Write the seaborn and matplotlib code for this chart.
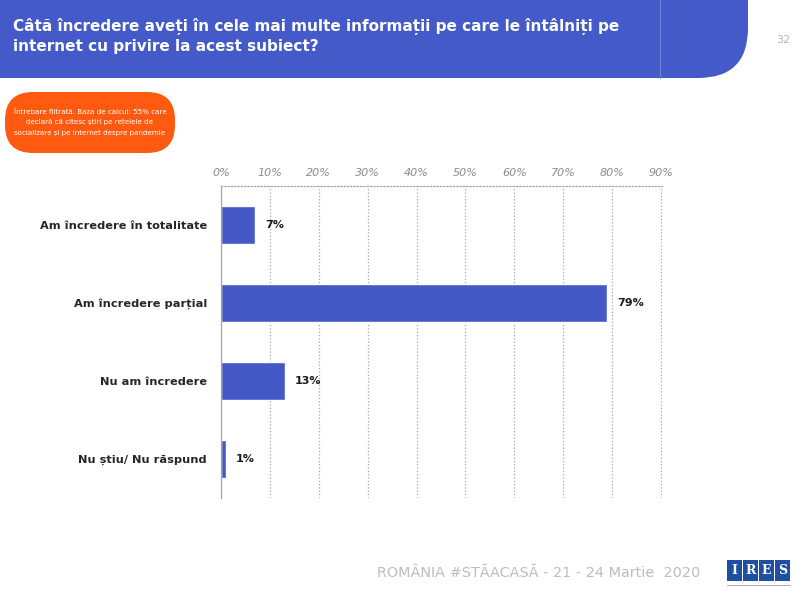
import matplotlib
matplotlib.use('Agg')
import matplotlib.pyplot as plt
import seaborn as sns
import pandas as pd
from matplotlib.patches import FancyBboxPatch, Rectangle

# data
categories = ['Am încredere în totalitate', 'Am încredere parțial',
              'Nu am încredere', 'Nu știu/ Nu răspund']
values = [7, 79, 13, 1]
tick_values = [0, 10, 20, 30, 40, 50, 60, 70, 80, 90]
tick_labels = [f'{v}%' for v in tick_values]

title = ('Câtă încredere aveți în cele mai multe informații pe care le întâlniți pe\n'
         'internet cu privire la acest subiect?')
note = ('Întrebare filtrată. Baza de calcul: 55% care\n'
        'declară că citesc știri pe rețelele de\n'
        'socializare și pe internet despre pandemie')
footer = 'ROMÂNIA #STĂACASĂ - 21 - 24 Martie  2020'
page = '32'

blue = '#4459C6'
orange = '#FF5A0F'

sns.set_style('white')
plt.rcParams['font.family'] = ['DejaVu Sans']

fig = plt.figure(figsize=(8, 5.91), dpi=100)

# background layer in pixel coords
bg = fig.add_axes([0, 0, 1, 1])
bg.set_xlim(0, 800)
bg.set_ylim(591, 0)
bg.axis('off')

bg.add_patch(FancyBboxPatch((-60, -60), 808, 138,
                            boxstyle='round,pad=0,rounding_size=50',
                            fc='#435AC8', ec='none'))
bg.plot([660, 660], [0, 78], color='#6F82D6', lw=0.8)
bg.text(13, 36, title, color='white', fontsize=11.0, fontweight='bold',
        va='center', ha='left', linespacing=1.4)
bg.text(783, 40, page, color='#B5B5B5', fontsize=8, ha='center', va='center')

bg.add_patch(FancyBboxPatch((5, 92), 170, 61,
                            boxstyle='round,pad=0,rounding_size=28',
                            fc=orange, ec='none'))
bg.text(90, 122, note, color='white', fontsize=5.1, ha='center', va='center',
        linespacing=1.75, family=['Liberation Sans Narrow', 'DejaVu Sans'])

bg.text(700, 573, footer, color='#BDBDBD', fontsize=10.4, ha='right', va='center')
for i, letter in enumerate('IRES'):
    x0 = 727 + i * 16
    bg.add_patch(Rectangle((x0, 560), 15, 21, fc='#1E4FA0', ec='none'))
    bg.text(x0 + 7.5, 571, letter, color='white', fontsize=9, fontweight='bold',
            family='DejaVu Serif', ha='center', va='center')
bg.plot([727, 790], [585, 585], color='#9A9A9A', lw=0.6)

# chart
ax = fig.add_axes([0.27625, 0.1574, 0.55125, 0.5279])
df = pd.DataFrame({'cat': categories, 'val': values})
sns.barplot(data=df, x='val', y='cat', orient='h', color=blue, width=0.49,
            saturation=1, ax=ax)

ax.set_xlim(0, 90.2)
ax.set_ylim(3.5, -0.5)
ax.xaxis.tick_top()
ax.set_xticks(tick_values)
ax.set_xticklabels(tick_labels, fontsize=8, style='italic', color='#8A8A8A')
ax.tick_params(axis='x', length=0, pad=6)
ax.grid(axis='x', linestyle=':', color='#A6A6A6', lw=0.9)
ax.set_axisbelow(True)
ax.set_xlabel('')
ax.set_ylabel('')

ax.set_yticks(range(len(categories)))
ax.set_yticklabels(categories, fontsize=8.2, fontweight='bold', color='#262626')
ax.tick_params(axis='y', length=0, pad=10)
ax.set_yticks([-0.5, 0.5, 1.5, 2.5, 3.5], minor=True)
ax.tick_params(axis='y', which='minor', length=4, color='#A6A6A6', width=0.8)

for s in ['right', 'bottom']:
    ax.spines[s].set_visible(False)
ax.spines['left'].set_color('#A6A6A6')
ax.spines['left'].set_linewidth(0.9)
ax.spines['top'].set_linestyle(':')
ax.spines['top'].set_color('#A6A6A6')
ax.spines['top'].set_linewidth(0.9)

for i, v in enumerate(values):
    ax.annotate(f'{v}%', (v, i), xytext=(7, 0), textcoords='offset points',
                ha='left', va='center', fontsize=8, fontweight='bold',
                color='#1A1A1A')

fig.savefig('out.png', dpi=100)
